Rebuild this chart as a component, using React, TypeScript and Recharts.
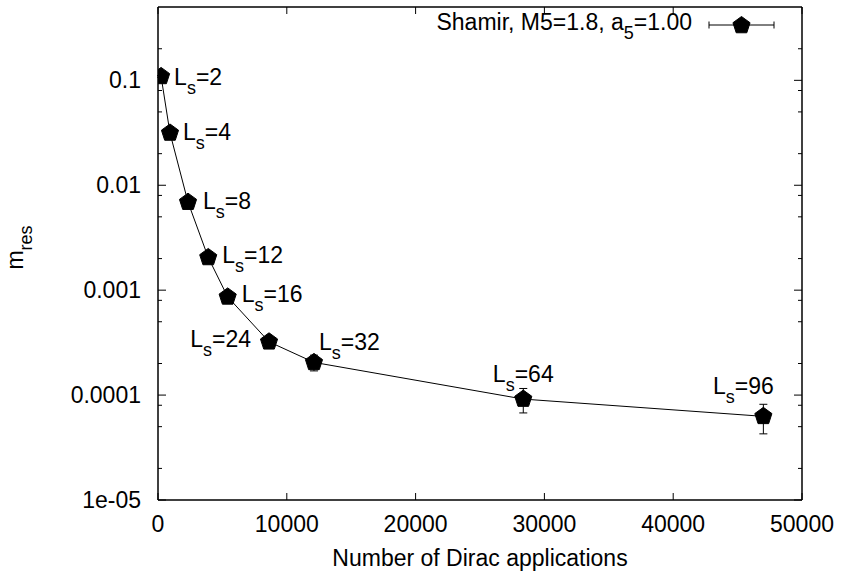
import React from 'react';
import { LineChart, Line, XAxis, YAxis, ErrorBar, LabelList, Label, Legend } from 'recharts';

// ---- data ----
const lsValues = [2, 4, 8, 12, 16, 24, 32, 64, 96];
const diracApplications = [240, 930, 2330, 3900, 5410, 8620, 12110, 28360, 47000];
const mres = [0.109, 0.0315, 0.0069, 0.00205, 0.000863, 0.000322, 0.000205, 0.0000916, 0.0000627];
const mresErrLow = [0.002, 0.0006, 0.0001, 0.00003, 0.00001, 0.000008, 0.000035, 0.000024, 0.00002];
const mresErrHigh = [0.002, 0.0006, 0.0001, 0.00003, 0.00001, 0.000008, 0.000035, 0.000024, 0.000019];

const xTicks = [0, 10000, 20000, 30000, 40000, 50000];
const xTickLabels = ['0', '10000', '20000', '30000', '40000', '50000'];
const yMajorTicks = [1e-5, 1e-4, 1e-3, 1e-2, 1e-1];
const yMajorLabels = ['1e-05', '0.0001', '0.001', '0.01', '0.1'];
const yMinorTicks = [2e-5, 5e-5, 8e-5, 2e-4, 5e-4, 8e-4, 2e-3, 5e-3, 8e-3, 2e-2, 5e-2, 8e-2, 2e-1];
const yAllTicks = [...yMajorTicks, ...yMinorTicks].sort((a, b) => a - b);

const legendLabel = { main: 'Shamir, M5=1.8, a', sub: '5', tail: '=1.00' };
const xAxisTitle = 'Number of Dirac applications';

const rows = lsValues.map((ls, i) => ({
  ls,
  x: diracApplications[i],
  mres: mres[i],
  err: [mresErrLow[i], mresErrHigh[i]],
}));

// ---- layout / style ----
const FONT = '"Liberation Sans", Arial, Helvetica, sans-serif';
const FS = 23;
const SUB_FS = 18;
const SUB_DY = 9;

const labelLayout: Record<number, { dx: number; dy: number; anchor: 'start' | 'middle' | 'end' }> = {
  2: { dx: 13, dy: 9, anchor: 'start' },
  4: { dx: 13, dy: 7, anchor: 'start' },
  8: { dx: 15, dy: 7, anchor: 'start' },
  12: { dx: 14, dy: 6, anchor: 'start' },
  16: { dx: 14, dy: 5, anchor: 'start' },
  24: { dx: -18, dy: 5, anchor: 'end' },
  32: { dx: 5, dy: -12, anchor: 'start' },
  64: { dx: 0, dy: -17, anchor: 'middle' },
  96: { dx: -20, dy: -22, anchor: 'middle' },
};

const pentagonPoints = (cx: number, cy: number, r: number) =>
  [0, 1, 2, 3, 4]
    .map((k) => {
      const a = ((-90 + 72 * k) * Math.PI) / 180;
      return `${cx + r * Math.cos(a)},${cy + r * Math.sin(a)}`;
    })
    .join(' ');

const renderDot = (props: any) => {
  const { cx, cy, index } = props;
  if (cx == null || cy == null) return <g key={`d-${index}`} />;
  return <polygon key={`d-${index}`} points={pentagonPoints(cx, cy, 9)} fill="#000" stroke="#000" strokeWidth={1} />;
};

const renderPointLabel = (props: any) => {
  const vb = props.viewBox || {};
  const x = props.x ?? vb.x;
  const y = props.y ?? vb.y;
  const value = props.value;
  const p = labelLayout[value] || { dx: 12, dy: 7, anchor: 'start' };
  return (
    <text x={x + p.dx} y={y + p.dy} textAnchor={p.anchor} fontSize={FS} fontFamily={FONT} fill="#000">
      L
      <tspan dy={SUB_DY} fontSize={SUB_FS}>s</tspan>
      <tspan dy={-SUB_DY}>={value}</tspan>
    </text>
  );
};

const LeftTick = (props: any) => {
  const { x, y, payload } = props;
  const mi = yMajorTicks.indexOf(payload.value);
  const major = mi >= 0;
  return (
    <g>
      <line x1={x} x2={x + (major ? 8 : 4)} y1={y} y2={y} stroke="#000" strokeWidth={1} />
      {major && (
        <text x={x - 17} y={y + 8} textAnchor="end" fontSize={FS} fontFamily={FONT} fill="#000">
          {yMajorLabels[mi]}
        </text>
      )}
    </g>
  );
};

const RightTick = (props: any) => {
  const { x, y, payload } = props;
  const major = yMajorTicks.indexOf(payload.value) >= 0;
  return <line x1={x} x2={x - (major ? 8 : 4)} y1={y} y2={y} stroke="#000" strokeWidth={1} />;
};

const BottomTick = (props: any) => {
  const { x, y, payload } = props;
  const i = xTicks.indexOf(payload.value);
  return (
    <g>
      <line x1={x} x2={x} y1={y} y2={y - 7} stroke="#000" strokeWidth={1} />
      <text x={x} y={y + 32} textAnchor="middle" fontSize={FS} fontFamily={FONT} fill="#000">
        {xTickLabels[i]}
      </text>
    </g>
  );
};

const TopTick = (props: any) => {
  const { x, y } = props;
  return <line x1={x} x2={x} y1={y} y2={y + 7} stroke="#000" strokeWidth={1} />;
};

const XTitle = (props: any) => {
  const vb = props.viewBox || { x: 158, y: 500, width: 644 };
  return (
    <text x={vb.x + vb.width / 2} y={vb.y + 66} textAnchor="middle" fontSize={FS} fontFamily={FONT} fill="#000">
      {xAxisTitle}
    </text>
  );
};

const YTitle = (props: any) => {
  const vb = props.viewBox || { x: 0, y: 7, width: 158, height: 493 };
  const x = vb.x + 23;
  const y = vb.y + vb.height / 2 - 6;
  return (
    <text x={x} y={y} transform={`rotate(-90, ${x}, ${y})`} textAnchor="middle" fontSize={FS} fontFamily={FONT} fill="#000">
      m
      <tspan dy={SUB_DY} fontSize={SUB_FS}>res</tspan>
    </text>
  );
};

const LegendContent = () => (
  <svg width={841} height={45} style={{ display: 'block' }}>
    <text x={692} y={30} textAnchor="end" fontSize={FS} fontFamily={FONT} fill="#000">
      {legendLabel.main}
      <tspan dy={SUB_DY} fontSize={SUB_FS}>{legendLabel.sub}</tspan>
      <tspan dy={-SUB_DY}>{legendLabel.tail}</tspan>
    </text>
    <line x1={709} x2={774} y1={25} y2={25} stroke="#000" strokeWidth={1} />
    <line x1={709} x2={709} y1={21.5} y2={28.5} stroke="#000" strokeWidth={1} />
    <line x1={774} x2={774} y1={21.5} y2={28.5} stroke="#000" strokeWidth={1} />
    <polygon points={pentagonPoints(741.5, 25.5, 9)} fill="#000" stroke="#000" strokeWidth={1} />
  </svg>
);

export default function App() {
  return (
    <div style={{ position: 'absolute', left: 0, top: 0, width: 841, height: 571, background: '#fff' }}>
      <LineChart width={841} height={571} data={rows} margin={{ top: 6, right: 38, bottom: 0, left: 0 }}>
        <XAxis
          xAxisId="bottom"
          dataKey="x"
          type="number"
          domain={[0, 50000]}
          ticks={xTicks}
          interval={0}
          allowDataOverflow
          height={71}
          tickSize={0}
          tickMargin={0}
          tickLine={false}
          axisLine={{ stroke: '#000', strokeWidth: 1.5 }}
          tick={<BottomTick />}
        >
          <Label content={<XTitle />} />
        </XAxis>
        <XAxis
          xAxisId="top"
          orientation="top"
          dataKey="x"
          type="number"
          domain={[0, 50000]}
          ticks={xTicks}
          interval={0}
          allowDataOverflow
          height={1}
          tickSize={0}
          tickMargin={0}
          tickLine={false}
          axisLine={{ stroke: '#000', strokeWidth: 1.5 }}
          tick={<TopTick />}
        />
        <YAxis
          yAxisId="left"
          type="number"
          scale="log"
          domain={[1e-5, 0.5]}
          ticks={yAllTicks}
          interval={0}
          allowDataOverflow
          width={158}
          tickSize={0}
          tickMargin={0}
          tickLine={false}
          axisLine={{ stroke: '#000', strokeWidth: 1.5 }}
          tick={<LeftTick />}
        >
          <Label content={<YTitle />} />
        </YAxis>
        <YAxis
          yAxisId="right"
          orientation="right"
          type="number"
          scale="log"
          domain={[1e-5, 0.5]}
          ticks={yAllTicks}
          interval={0}
          allowDataOverflow
          width={1}
          tickSize={0}
          tickMargin={0}
          tickLine={false}
          axisLine={{ stroke: '#000', strokeWidth: 1.5 }}
          tick={<RightTick />}
        />
        <Legend
          layout="horizontal"
          align="center"
          verticalAlign="middle"
          content={<LegendContent />}
          wrapperStyle={{ position: 'absolute', left: 0, top: 0, width: 841, height: 45, margin: 0 }}
        />
        <Line
          xAxisId="top"
          yAxisId="right"
          dataKey="mres"
          type="linear"
          stroke="none"
          strokeWidth={0}
          dot={false}
          activeDot={false}
          isAnimationActive={false}
          legendType="none"
        />
        <Line
          xAxisId="bottom"
          yAxisId="left"
          dataKey="mres"
          type="linear"
          stroke="#000"
          strokeWidth={1}
          dot={renderDot}
          activeDot={false}
          isAnimationActive={false}
          legendType="none"
        >
          <ErrorBar dataKey="err" direction="y" width={4} stroke="#000" strokeWidth={1} isAnimationActive={false} />
          <LabelList dataKey="ls" content={renderPointLabel} />
        </Line>
      </LineChart>
    </div>
  );
}
